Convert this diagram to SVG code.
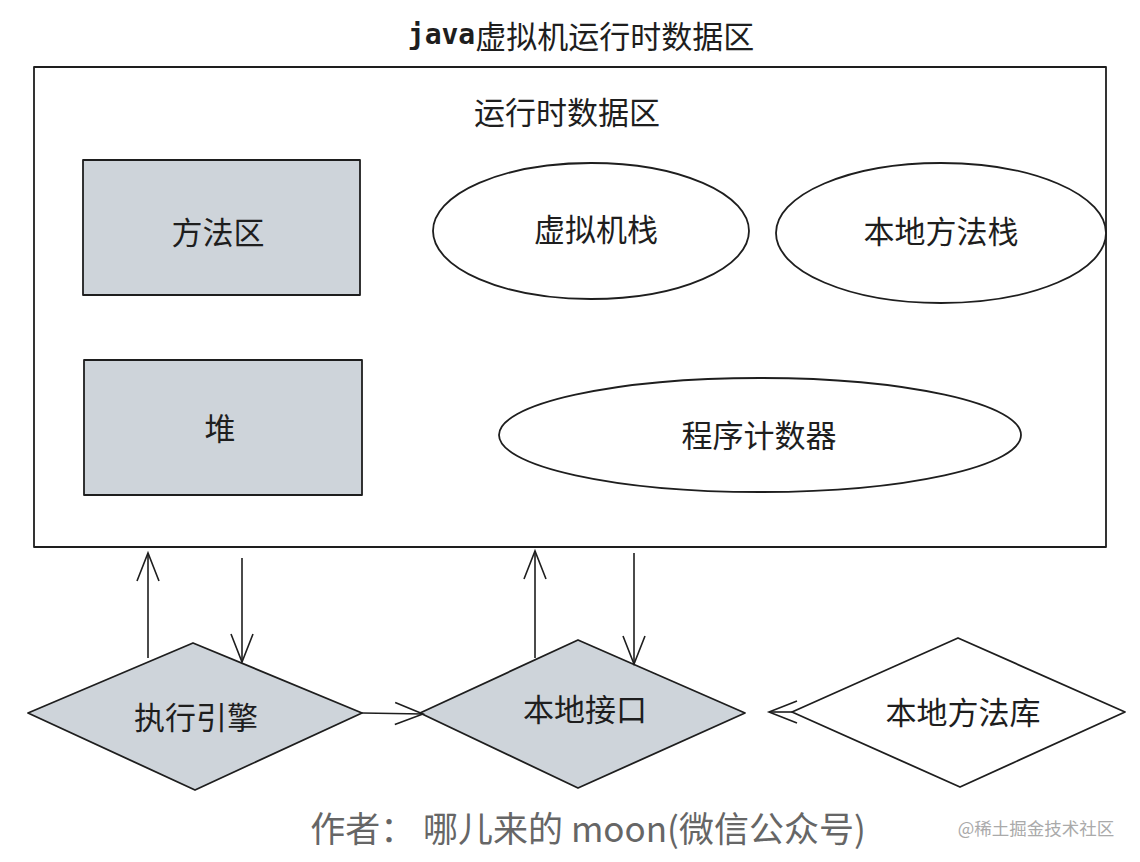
<svg xmlns="http://www.w3.org/2000/svg" width="1140" height="862" viewBox="0 0 1140 862">
<style>
.t{font-family:"Noto Sans CJK SC","Noto Sans",sans-serif;font-size:31px;fill:#1e1e1e;text-anchor:middle;dominant-baseline:central}
.s{stroke:#1e1e1e;stroke-width:1.8;stroke-linejoin:round}
.g{fill:#ced4da}
.w{fill:#ffffff}
.c{stroke:#1e1e1e;stroke-width:1.6;fill:none;marker-end:url(#arr)}
</style>
<defs>
<marker id="arr" viewBox="-32 -14 36 28" markerWidth="36" markerHeight="28" refX="0" refY="0" markerUnits="userSpaceOnUse" orient="auto">
<path d="M-28,-11 L0,0 L-28,11" fill="none" stroke="#1e1e1e" stroke-width="1.6"/>
</marker>
</defs>
<rect width="1140" height="862" fill="#ffffff"/>
<text x="581" y="34" class="t" font-size="30"><tspan font-family="DejaVu Sans Mono,monospace" font-size="28" font-weight="bold">java</tspan>虚拟机运行时数据区</text>
<g id="runtime-area">
<rect x="34" y="67" width="1072" height="480" class="s" fill="#ffffff"/>
<text x="567" y="110" class="t">运行时数据区</text>
</g>
<g id="method-area">
<rect x="83" y="160" width="277" height="135" class="s g"/>
<text x="218" y="230" class="t">方法区</text>
</g>
<g id="heap">
<rect x="84" y="360" width="278" height="135" class="s g"/>
<text x="220" y="426" class="t">堆</text>
</g>
<g id="vm-stack">
<ellipse cx="591" cy="231" rx="158" ry="68" class="s w"/>
<text x="596" y="227" class="t">虚拟机栈</text>
</g>
<g id="native-method-stack">
<ellipse cx="941" cy="233" rx="165" ry="70" class="s w"/>
<text x="941" y="229" class="t">本地方法栈</text>
</g>
<g id="pc-register">
<ellipse cx="760" cy="435" rx="261" ry="57" class="s w"/>
<text x="759" y="433" class="t">程序计数器</text>
</g>
<g id="execution-engine">
<polygon points="28,713 193,643 362,713 195,790" class="s g"/>
<text x="196" y="715" class="t">执行引擎</text>
</g>
<g id="native-interface">
<polygon points="420,713 578,640 745,713 578,788" class="s g"/>
<text x="585" y="707" class="t">本地接口</text>
</g>
<g id="native-library">
<polygon points="792,712 958,638 1125,712 960,787" class="s w"/>
<text x="963" y="710" class="t">本地方法库</text>
</g>
<g id="connectors">
<path d="M148,658 L148,553" class="c"/>
<path d="M242,558 L242,662" class="c"/>
<path d="M362,713 L423,714" class="c"/>
<path d="M535,658 L535,551" class="c"/>
<path d="M634,553 L634,664" class="c"/>
<path d="M792,712 L769,712" class="c"/>
</g>
<text x="588" y="826" font-family="Noto Sans CJK SC,Noto Sans,sans-serif" font-size="35" fill="#666666" text-anchor="middle" dominant-baseline="central">作者： 哪儿来的 moon(微信公众号)</text>
<text x="1036" y="827" font-family="Noto Sans CJK SC,Noto Sans,sans-serif" font-size="17.5" fill="#aaaaaa" text-anchor="middle" dominant-baseline="central">@稀土掘金技术社区</text>
</svg>
